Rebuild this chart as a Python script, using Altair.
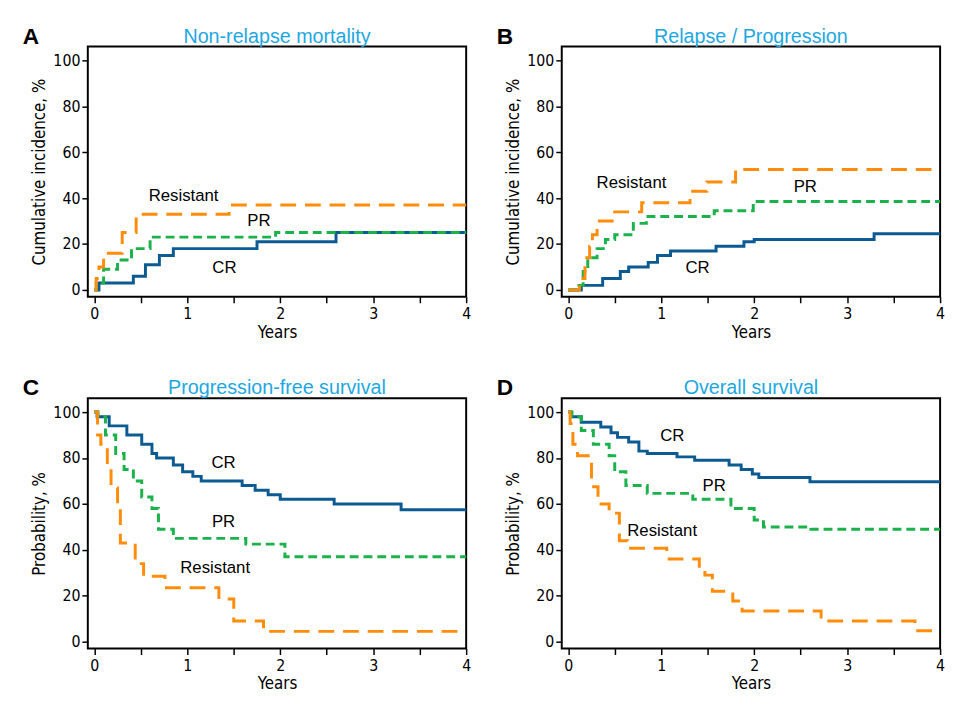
import altair as alt
import pandas as pd

# Step curves: (years, percent) pairs per panel and group
nrm_cr_t = [0, 0.05, 0.42, 0.55, 0.7, 0.85, 1.75, 2.6, 4]
nrm_cr_v = [0, 3, 6, 11, 15, 18, 21, 25, 25]
nrm_pr_t = [0, 0.02, 0.1, 0.25, 0.4, 0.6, 1.95, 4]
nrm_pr_v = [0, 3, 9, 13, 18, 23, 25, 25]
nrm_res_t = [0, 0.02, 0.05, 0.1, 0.3, 0.45, 1.45, 4]
nrm_res_v = [0, 5, 10, 16, 25, 33, 37, 37]

rel_cr_t = [0, 0.14, 0.37, 0.56, 0.65, 0.86, 0.96, 1.1, 1.59, 1.89, 2.0, 3.29, 4]
rel_cr_v = [0, 2, 5, 8, 10, 12, 15, 17, 19, 21, 22, 24.5, 24.5]
rel_pr_t = [0, 0.09, 0.16, 0.21, 0.31, 0.4, 0.5, 0.7, 0.84, 1.57, 1.99, 4]
rel_pr_v = [0, 2, 8, 14, 18, 22, 24, 29, 32, 34.5, 38.5, 38.5]
rel_res_t = [0, 0.12, 0.18, 0.23, 0.26, 0.31, 0.5, 0.79, 1.31, 1.49, 1.8, 4]
rel_res_v = [0, 5, 14, 19, 24, 30, 34, 38, 43, 47, 52.5, 52.5]

pfs_cr_t = [0, 0.03, 0.16, 0.35, 0.51, 0.62, 0.67, 0.85, 0.95, 1.06, 1.15, 1.59, 1.73, 1.87, 2.0, 2.58, 3.3, 4]
pfs_cr_v = [100, 98, 94, 90, 86, 82, 80, 77, 74, 72, 70, 68, 66, 64, 62, 60, 57.5, 57.5]
pfs_pr_t = [0, 0.04, 0.12, 0.23, 0.32, 0.42, 0.51, 0.62, 0.69, 0.85, 1.63, 2.05, 4]
pfs_pr_v = [100, 98, 90, 82, 75, 70, 63, 58, 49, 45, 42.5, 37, 37]
pfs_res_t = [0, 0.035, 0.07, 0.14, 0.18, 0.25, 0.28, 0.44, 0.53, 0.76, 1.34, 1.5, 1.82, 4]
pfs_res_v = [100, 90, 86, 77, 67, 58, 43, 34, 28.5, 23.5, 18.6, 9, 4.5, 4.5]

os_cr_t = [0, 0.03, 0.14, 0.35, 0.46, 0.53, 0.65, 0.76, 0.85, 1.17, 1.36, 1.73, 1.86, 1.98, 2.05, 2.6, 4]
os_cr_v = [100, 98, 95.6, 93.5, 91, 89, 87, 83, 82, 80.5, 79, 77, 75, 73, 71.5, 69.7, 69.7]
os_pr_t = [0, 0.04, 0.14, 0.27, 0.44, 0.5, 0.62, 0.85, 1.34, 1.75, 2.0, 2.1, 2.61, 4]
os_pr_v = [100, 98, 92, 86, 81, 74, 68, 64.6, 62, 58, 53, 50, 49, 49]
os_res_t = [0, 0.02, 0.05, 0.1, 0.25, 0.32, 0.44, 0.55, 0.64, 1.06, 1.41, 1.47, 1.55, 1.77, 1.87, 2.72, 3.73, 4]
os_res_v = [100, 95, 86, 81, 67.5, 60, 56, 44, 40.7, 36, 31.6, 29, 22, 17.7, 13.4, 9, 4.8, 4.8]

groups = ["CR", "PR", "Resistant"]
colors = ["#0b5b92", "#1bb24b", "#ff8c0a"]
dashes = [[1, 0], [9, 5], [16, 9]]

panels = [
    ("A", "Non-relapse mortality", "Cumulative incidence, %",
     [(nrm_cr_t, nrm_cr_v), (nrm_pr_t, nrm_pr_v), (nrm_res_t, nrm_res_v)],
     [(1.4, 9.5), (1.77, 30), (0.96, 41)]),
    ("B", "Relapse / Progression", "Cumulative incidence, %",
     [(rel_cr_t, rel_cr_v), (rel_pr_t, rel_pr_v), (rel_res_t, rel_res_v)],
     [(1.39, 9.5), (2.55, 45), (0.68, 46.5)]),
    ("C", "Progression-free survival", "Probability, %",
     [(pfs_cr_t, pfs_cr_v), (pfs_pr_t, pfs_pr_v), (pfs_res_t, pfs_res_v)],
     [(1.39, 78), (1.39, 52), (1.3, 32)]),
    ("D", "Overall survival", "Probability, %",
     [(os_cr_t, os_cr_v), (os_pr_t, os_pr_v), (os_res_t, os_res_v)],
     [(1.12, 89.6), (1.57, 68), (1.01, 48)]),
]

narrow = "DejaVu Sans Condensed, Liberation Sans Narrow, Arial Narrow, sans-serif"
W, H = 384, 254


def make_panel(letter, title, ytitle, curves, label_pos):
    rows = []
    for g, (t, v) in zip(groups, curves):
        for ti, vi in zip(t, v):
            rows.append({"group": g, "t": ti, "v": vi})
    df = pd.DataFrame(rows)
    labels = pd.DataFrame(
        [{"group": g, "t": p[0], "v": p[1]} for g, p in zip(groups, label_pos)]
    )

    x = alt.X(
        "t:Q",
        scale=alt.Scale(domain=[-0.07, 4.0], nice=False, zero=False),
        axis=alt.Axis(
            values=[0, 0.5, 1, 1.5, 2, 2.5, 3, 3.5, 4],
            labelExpr="datum.value % 1 == 0 ? format(datum.value, 'd') : ''",
            title="Years",
        ),
    )
    y = alt.Y(
        "v:Q",
        scale=alt.Scale(domain=[-3, 106], nice=False, zero=False),
        axis=alt.Axis(
            values=list(range(0, 101, 10)),
            labelExpr="datum.value % 20 == 0 ? format(datum.value, 'd') : ''",
            title=ytitle,
        ),
    )

    lines = alt.Chart(df).mark_line(interpolate="step-after", strokeWidth=3).encode(
        x=x,
        y=y,
        color=alt.Color("group:N", scale=alt.Scale(domain=groups, range=colors), legend=None),
        strokeDash=alt.StrokeDash("group:N", scale=alt.Scale(domain=groups, range=dashes), legend=None),
    )
    text = alt.Chart(labels).mark_text(fontSize=17, font="Liberation Sans", color="black").encode(
        x="t:Q", y="v:Q", text="group:N"
    )
    head = alt.Chart(pd.DataFrame({"s": [letter]})).mark_text(
        fontSize=23, fontWeight="bold", font="Liberation Sans", color="black",
        align="left", baseline="middle"
    ).encode(x=alt.value(-66), y=alt.value(-10), text="s:N")
    ttl = alt.Chart(pd.DataFrame({"s": [title]})).mark_text(
        fontSize=20, font="Liberation Sans", color="#1ea7df", baseline="middle"
    ).encode(x=alt.value(W / 2), y=alt.value(-10), text="s:N")

    return alt.layer(lines, text, head, ttl).properties(width=W, height=H)


pa = [make_panel(*p) for p in panels]
chart = (
    alt.vconcat(
        alt.hconcat(pa[0], pa[1], spacing=23),
        alt.hconcat(pa[2], pa[3], spacing=23),
        spacing=36,
    )
    .configure_view(stroke="black", strokeWidth=2)
    .configure_axis(
        domain=False, grid=False, tickColor="black", tickWidth=1.5, tickSize=6,
        labelFont=narrow, labelFontSize=16, labelColor="black",
        titleFont=narrow, titleFontSize=17, titleFontWeight="normal", titleColor="black",
        labelFlush=False,
    )
    .configure_axisX(titlePadding=3, labelPadding=3)
    .properties(padding={"left": 14, "top": 12, "right": 0, "bottom": 0})
)

chart.save("out.html", embed_options={"renderer": "svg", "actions": False})
